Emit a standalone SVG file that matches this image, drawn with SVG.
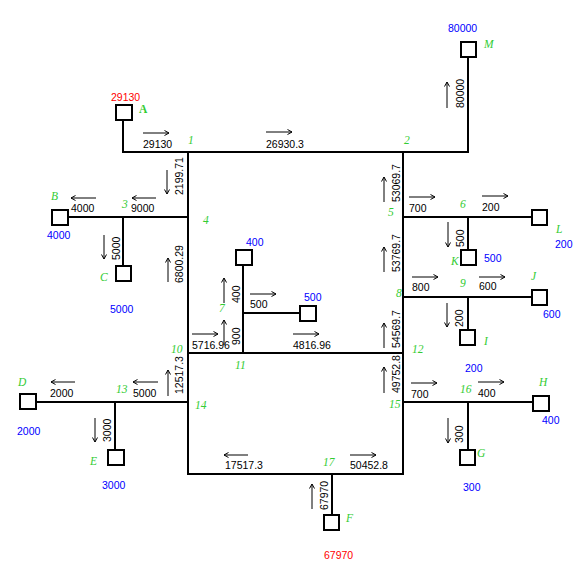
<svg xmlns="http://www.w3.org/2000/svg" width="580" height="571" viewBox="0 0 580 571">
<style>
text{font-family:"Liberation Sans",Arial,sans-serif;font-size:10.5px;fill:#000}
.b{fill:#0000ff}
.r{fill:#ff0000}
.g{font-family:"Liberation Serif","Times New Roman",serif;font-style:italic;font-size:11.5px;fill:#33cc33}
.gb{font-weight:bold;font-style:normal}
.ln{stroke:#000;stroke-width:1.2;fill:none;shape-rendering:crispEdges}
.ar{stroke:#000;stroke-width:1;fill:none;marker-end:url(#ah)}
.box{fill:#fff;stroke:#000;stroke-width:1.2;shape-rendering:crispEdges}
</style>
<defs>
<marker id="ah" viewBox="0 0 6 6" markerWidth="6" markerHeight="6" refX="5.5" refY="3" orient="auto" markerUnits="userSpaceOnUse">
<path d="M1,0.5 L5.5,3 L1,5.5" fill="none" stroke="#000" stroke-width="1"/>
</marker>
</defs>
<rect width="580" height="571" fill="#fff"/>
<g id="connectors">
<path class="ln" d="M123,120 V152 H468 V57"/>
<path class="ln" d="M188,152 V474 H403 V152"/>
<path class="ln" d="M188,353 H403"/>
<path class="ln" d="M243,265 V353 M243,313 H300"/>
<path class="ln" d="M188,217 H68 M123,217 V266"/>
<path class="ln" d="M403,217 H532 M468,217 V250"/>
<path class="ln" d="M403,297 H532 M468,297 V330"/>
<path class="ln" d="M403,402 H533 M468,402 V450"/>
<path class="ln" d="M188,402 H36 M115,402 V450"/>
<path class="ln" d="M332,474 V515"/>
</g>
<g id="flows">
<path class="ar" d="M143,133 H169"/>
<path class="ar" d="M266,132 H292"/>
<path class="ar" d="M156,198 H132"/>
<path class="ar" d="M96,198 H71"/>
<path class="ar" d="M167,170 V194"/>
<path class="ar" d="M104,235 V259"/>
<path class="ar" d="M168,282 V258"/>
<path class="ar" d="M168,396 V370"/>
<path class="ar" d="M224,303 V278"/>
<path class="ar" d="M224,345 V320"/>
<path class="ar" d="M447,108 V82"/>
<path class="ar" d="M384,202 V177"/>
<path class="ar" d="M384,272 V247"/>
<path class="ar" d="M384,348 V323"/>
<path class="ar" d="M384,393 V367"/>
<path class="ar" d="M448,222 V247"/>
<path class="ar" d="M447,303 V327"/>
<path class="ar" d="M448,418 V443"/>
<path class="ar" d="M95,418 V442"/>
<path class="ar" d="M312,509 V484"/>
<path class="ar" d="M409,197 H435"/>
<path class="ar" d="M482,196 H508"/>
<path class="ar" d="M250,294 H276"/>
<path class="ar" d="M192,334 H218"/>
<path class="ar" d="M293,334 H319"/>
<path class="ar" d="M412,277 H438"/>
<path class="ar" d="M479,277 H505"/>
<path class="ar" d="M411,383 H437"/>
<path class="ar" d="M478,382 H504"/>
<path class="ar" d="M75,382 H51"/>
<path class="ar" d="M158,382 H133"/>
<path class="ar" d="M248,455 H224"/>
<path class="ar" d="M350,455 H376"/>
<text x="143" y="148">29130</text>
<text x="266" y="148">26930.3</text>
<text x="131" y="212">9000</text>
<text x="71" y="212">4000</text>
<text x="409" y="212">700</text>
<text x="482" y="211">200</text>
<text x="250" y="308">500</text>
<text x="192" y="349">5716.96</text>
<text x="293" y="349">4816.96</text>
<text x="412" y="291">800</text>
<text x="479" y="290">600</text>
<text x="411" y="398">700</text>
<text x="478" y="397">400</text>
<text x="50" y="397">2000</text>
<text x="133" y="397">5000</text>
<text x="225" y="469">17517.3</text>
<text x="350" y="469">50452.8</text>
<text transform="translate(183,195) rotate(-90)">2199.71</text>
<text transform="translate(120,260) rotate(-90)">5000</text>
<text transform="translate(183,283) rotate(-90)">6800.29</text>
<text transform="translate(183,394) rotate(-90)">12517.3</text>
<text transform="translate(240,303) rotate(-90)">400</text>
<text transform="translate(240,345) rotate(-90)">900</text>
<text transform="translate(464,108) rotate(-90)">80000</text>
<text transform="translate(400,202) rotate(-90)">53069.7</text>
<text transform="translate(400,272) rotate(-90)">53769.7</text>
<text transform="translate(400,348) rotate(-90)">54569.7</text>
<text transform="translate(400,393) rotate(-90)">49752.8</text>
<text transform="translate(464,247) rotate(-90)">500</text>
<text transform="translate(463,327) rotate(-90)">200</text>
<text transform="translate(463,443) rotate(-90)">300</text>
<text transform="translate(111,442) rotate(-90)">3000</text>
<text transform="translate(328,510) rotate(-90)">67970</text>
</g>
<g id="node-A"><rect class="box" x="116" y="105" width="16" height="15"/><text class="r" x="111" y="101">29130</text><text class="g gb" x="139" y="113">A</text></g>
<g id="node-M"><rect class="box" x="461" y="42" width="15" height="15"/><text class="b" x="448" y="32">80000</text><text class="g" x="484" y="48">M</text></g>
<g id="node-B"><rect class="box" x="52" y="210" width="16" height="15"/><text class="b" x="47" y="239">4000</text><text class="g" x="51" y="200">B</text></g>
<g id="node-C"><rect class="box" x="116" y="266" width="15" height="15"/><text class="b" x="110" y="313">5000</text><text class="g" x="100" y="281">C</text></g>
<g id="node-400"><rect class="box" x="236" y="250" width="16" height="15"/><text class="b" x="246" y="246">400</text></g>
<g id="node-500"><rect class="box" x="300" y="306" width="16" height="15"/><text class="b" x="304" y="301">500</text></g>
<g id="node-L"><rect class="box" x="532" y="210" width="15" height="15"/><text class="b" x="555" y="248">200</text><text class="g" x="556" y="233">L</text></g>
<g id="node-K"><rect class="box" x="461" y="250" width="15" height="15"/><text class="b" x="484" y="262">500</text><text class="g" x="451" y="265">K</text></g>
<g id="node-J"><rect class="box" x="532" y="290" width="15" height="15"/><text class="b" x="543" y="318">600</text><text class="g" x="531" y="280">J</text></g>
<g id="node-I"><rect class="box" x="460" y="330" width="15" height="15"/><text class="b" x="465" y="372">200</text><text class="g" x="484" y="345">I</text></g>
<g id="node-H"><rect class="box" x="533" y="396" width="16" height="15"/><text class="b" x="542" y="424">400</text><text class="g" x="539" y="386">H</text></g>
<g id="node-G"><rect class="box" x="460" y="450" width="15" height="15"/><text class="b" x="463" y="491">300</text><text class="g" x="477" y="457">G</text></g>
<g id="node-D"><rect class="box" x="20" y="394" width="16" height="15"/><text class="b" x="17" y="435">2000</text><text class="g" x="18" y="386">D</text></g>
<g id="node-E"><rect class="box" x="108" y="450" width="16" height="15"/><text class="b" x="102" y="489">3000</text><text class="g" x="90" y="465">E</text></g>
<g id="node-F"><rect class="box" x="324" y="515" width="15" height="15"/><text class="r" x="324" y="559">67970</text><text class="g" x="346" y="522">F</text></g>
<g id="junctions">
<g id="j1"><text class="g" x="188" y="144">1</text></g>
<g id="j2"><text class="g" x="404" y="144">2</text></g>
<g id="j3"><text class="g" x="122" y="208">3</text></g>
<g id="j4"><text class="g" x="203" y="224">4</text></g>
<g id="j5"><text class="g" x="388" y="216">5</text></g>
<g id="j6"><text class="g" x="460" y="208">6</text></g>
<g id="j7"><text class="g" x="219" y="312">7</text></g>
<g id="j8"><text class="g" x="396" y="297">8</text></g>
<g id="j9"><text class="g" x="460" y="287">9</text></g>
<g id="j10"><text class="g" x="171" y="353">10</text></g>
<g id="j11"><text class="g" x="235" y="369">11</text></g>
<g id="j12"><text class="g" x="412" y="353">12</text></g>
<g id="j13"><text class="g" x="116" y="393">13</text></g>
<g id="j14"><text class="g" x="195" y="409">14</text></g>
<g id="j15"><text class="g" x="389" y="408">15</text></g>
<g id="j16"><text class="g" x="460" y="393">16</text></g>
<g id="j17"><text class="g" x="323" y="466">17</text></g>
</g>
</svg>
